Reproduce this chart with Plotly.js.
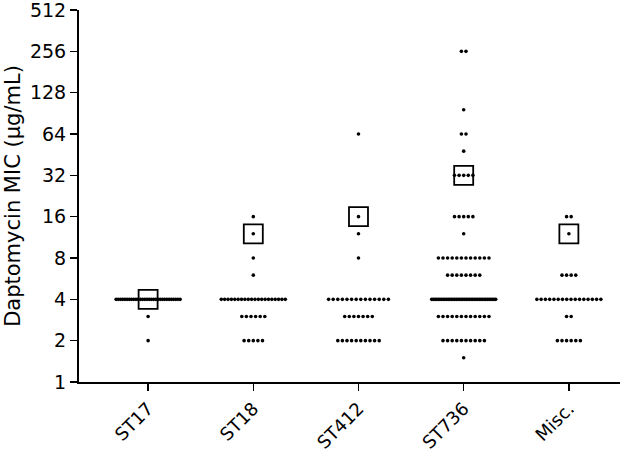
<!DOCTYPE html>
<html>
<head>
<meta charset="utf-8">
<script src="https://cdn.plot.ly/plotly-3.0.1.min.js"></script>
<style>html,body{margin:0;padding:0;background:#fff;}#chart{width:643px;height:457px;}</style>
</head>
<body>
<div id="chart"></div>
<script>
const categories = ['ST17', 'ST18', 'ST412', 'ST736', 'Misc.'];

const st17Mic = [4, 3, 2];
const st17Count = [30, 1, 1];
const st18Mic = [16, 12, 8, 6, 4, 3, 2];
const st18Count = [1, 1, 1, 1, 20, 6, 5];
const st412Mic = [64, 16, 12, 8, 4, 3, 2];
const st412Count = [1, 1, 1, 1, 14, 7, 10];
const st736Mic = [256, 96, 64, 48, 32, 16, 12, 8, 6, 4, 3, 2, 1.5];
const st736Count = [2, 1, 2, 1, 5, 5, 1, 12, 8, 40, 12, 10, 1];
const miscMic = [16, 12, 6, 4, 3, 2];
const miscCount = [2, 1, 4, 16, 2, 6];
const summaryMic = [4, 12, 16, 32, 12];

const yTicks = [1, 2, 4, 8, 16, 32, 64, 128, 256, 512];
const yTickText = ['1', '2', '4', '8', '16', '32', '64', '128', '256', '512'];

const groups = [
  [st17Mic, st17Count],
  [st18Mic, st18Count],
  [st412Mic, st412Count],
  [st736Mic, st736Count],
  [miscMic, miscCount]
];

// layout geometry for the swarm spreading
const marginL = 79, marginR = 23;
const xRange = [-0.657, 4.486];
const pxPerUnit = (643 - marginL - marginR) / (xRange[1] - xRange[0]);
const dotGap = 4.6;
const maxRowWidth = 64;

const xs = [], ys = [];
groups.forEach(function (g, gi) {
  const mic = g[0], cnt = g[1];
  mic.forEach(function (v, k) {
    const n = cnt[k];
    const w = n > 1 ? Math.min((n - 1) * dotGap, maxRowWidth) : 0;
    const step = n > 1 ? w / (n - 1) : 0;
    for (let i = 0; i < n; i++) {
      xs.push(gi + (-w / 2 + i * step) / pxPerUnit);
      ys.push(v);
    }
  });
});

const catIdx = categories.map(function (c, i) { return i; });

const data = [
  {
    type: 'scatter', mode: 'markers', x: xs, y: ys,
    marker: { color: '#000', size: 3.6 },
    hoverinfo: 'y', showlegend: false
  },
  {
    type: 'scatter', mode: 'markers', x: catIdx, y: summaryMic,
    marker: { symbol: 'square-open', color: '#000', size: 19, line: { width: 1.8, color: '#111' } },
    hoverinfo: 'y', showlegend: false
  }
];

const layout = {
  width: 643, height: 457,
  margin: { l: marginL, r: marginR, t: 10, b: 75 },
  paper_bgcolor: '#fff', plot_bgcolor: '#fff',
  font: { family: 'DejaVu Sans, Arial, sans-serif', color: '#000', size: 19 },
  showlegend: false,
  xaxis: {
    range: xRange,
    tickvals: catIdx, ticktext: categories,
    tickangle: -45,
    ticks: 'outside', ticklen: 7, tickwidth: 1.5, tickcolor: '#000',
    showline: true, linecolor: '#000', linewidth: 2,
    showgrid: false, zeroline: false,
    tickfont: { size: 18 }
  },
  yaxis: {
    type: 'log',
    range: [0, Math.log10(512)],
    tickvals: yTicks, ticktext: yTickText,
    ticks: 'outside', ticklen: 7, tickwidth: 1.5, tickcolor: '#000',
    ticklabeloverflow: 'allow',
    showline: true, linecolor: '#000', linewidth: 2,
    showgrid: false, zeroline: false,
    tickfont: { size: 19 },
    title: { text: 'Daptomycin MIC (μg/mL)', font: { size: 21 }, standoff: 4 }
  }
};

Plotly.newPlot('chart', data, layout, { staticPlot: true });
</script>
</body>
</html>
